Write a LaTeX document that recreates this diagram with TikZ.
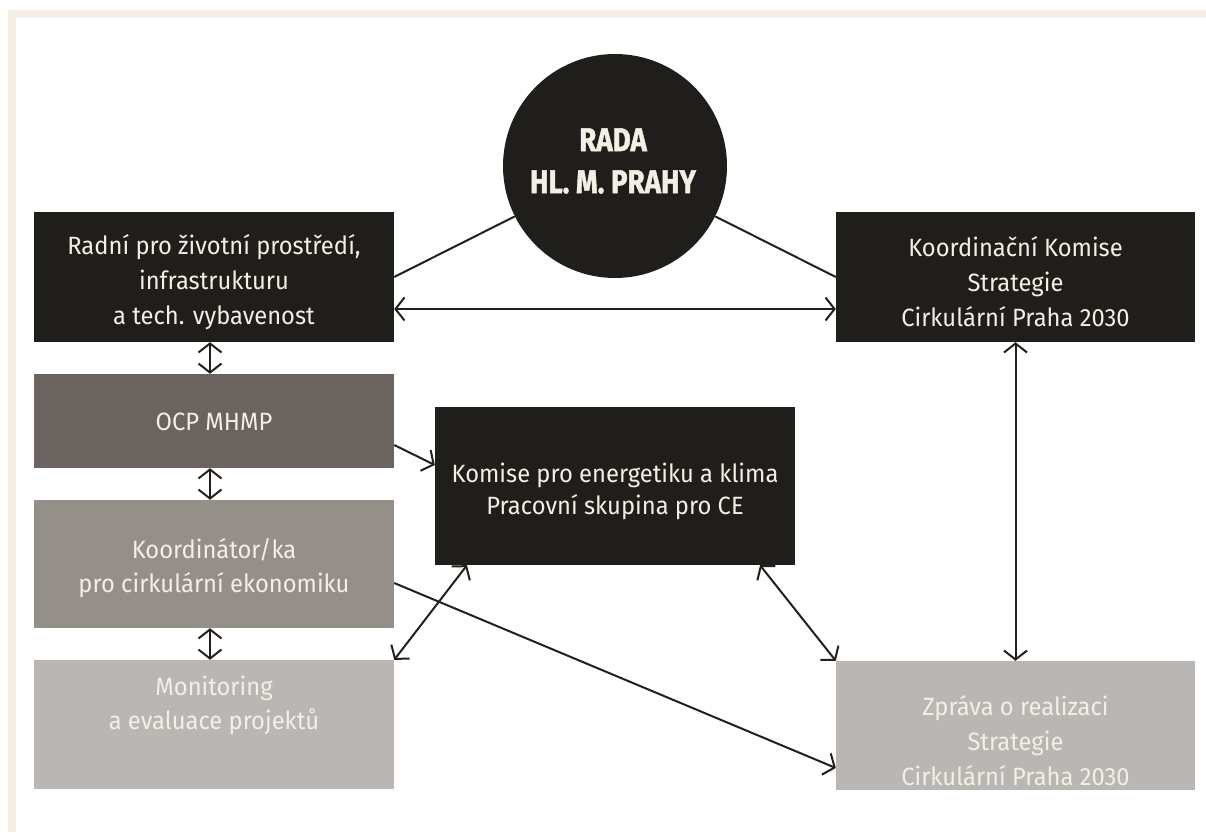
\documentclass[tikz,border=0pt]{standalone}
\usepackage{fontspec}
\setmainfont{Fira Sans}[FakeStretch=0.95]
\newfontfamily\titlefont{Fira Sans}[BoldFeatures={FakeBold=1.5}]
\usetikzlibrary{arrows.meta}
\definecolor{ink}{HTML}{201E1A}
\definecolor{cream}{HTML}{F3EFE5}
\definecolor{framec}{HTML}{F3EFE4}
\definecolor{ocp}{HTML}{6B6360}
\definecolor{koord}{HTML}{958F8A}
\definecolor{light}{HTML}{BAB6B3}
\definecolor{lin}{HTML}{231F1B}
\tikzset{
  box/.style={rectangle, inner sep=0pt, minimum width=360pt, draw=none},
  txt/.style={align=center, text=cream, font=\fontsize{25}{35}\selectfont, inner sep=0pt},
  tip/.tip={Straight Barb[length=9pt,width=23pt,line width=2pt]},
  conn/.style={draw=lin, line width=2pt},
  dbl/.style={conn, tip-tip},
  one/.style={conn, -tip},
}
\begin{document}
\begin{tikzpicture}[x=1pt,y=-1pt]
\useasboundingbox (0,0) rectangle (1206,832);
\fill[framec] (8,10) rectangle (1206,18);
\fill[framec] (8,10) rectangle (16,832);
% circle
\node[circle, fill=ink, minimum size=224pt, inner sep=0pt] (rada) at (615,166) {};
\node[align=center, text=cream, inner sep=0pt, font=\fontsize{33}{42}\titlefont\bfseries] (radat) at (613,161)
  {\scalebox{0.84}[1]{RADA}\\\scalebox{0.84}[1]{HL. M. PRAHY}};
% left column
\node[box, fill=ink, minimum height=130pt] (b1) at (214,277) {};
\node[txt] (b1t) at (214,282) {Radní pro životní prostředí,\\infrastrukturu\\a tech. vybavenost};
\node[box, fill=ocp, minimum height=94pt] (b2) at (214,421) {};
\node[txt] (b2t) at (214,422) {OCP MHMP};
\node[box, fill=koord, minimum height=128pt] (b3) at (214,564) {};
\node[txt, font=\fontsize{25}{34}\selectfont] (b3t) at (214,568) {Koordinátor/ka\\pro cirkulární ekonomiku};
\node[box, fill=light, minimum height=129pt] (b4) at (214,724.5) {};
\node[txt, font=\fontsize{25}{34}\selectfont] (b4t) at (214,705) {Monitoring\\a evaluace projektů};
% right column
\node[box, fill=ink, minimum width=359pt, minimum height=130pt] (r1) at (1015.5,277) {};
\node[txt] (r1t) at (1015.5,282) {Koordinační Komise\\Strategie\\Cirkulární Praha 2030};
\node[box, fill=light, minimum width=359pt, minimum height=129pt] (z) at (1015.5,725.5) {};
\node[txt] (zt) at (1015.5,741) {Zpráva o realizaci\\Strategie\\Cirkulární Praha 2030};
% middle
\node[box, fill=ink, minimum height=158pt] (mid) at (615,486) {};
\node[txt, font=\fontsize{25}{32}\selectfont] (midt) at (615,491) {Komise pro energetiku a klima\\Pracovní skupina pro CE};
% connectors
\draw[conn] (rada) -- (b1.east);
\draw[conn] (rada) -- (r1.west);
\draw[dbl] ([yshift=-32pt]b1.east) -- ([yshift=-32pt]r1.west);
\draw[dbl] ([xshift=-4pt]b1.south) -- ([xshift=-4pt]b2.north);
\draw[dbl] ([xshift=-4pt]b2.south) -- ([xshift=-4pt]b3.north);
\draw[dbl] ([xshift=-4pt]b3.south) -- ([xshift=-4pt]b4.north);
\draw[one] ([yshift=-24pt]b2.east) -- ([yshift=21pt]mid.west);
\draw[one] ([yshift=-19pt]b3.east) -- ([yshift=-42.5pt]z.west);
\draw[dbl] ([xshift=-148pt]mid.south) -- (b4.north east);
\draw[dbl] ([xshift=145pt]mid.south) -- (z.north west);
\draw[dbl] (r1.south) -- (z.north);
\end{tikzpicture}
\end{document}
